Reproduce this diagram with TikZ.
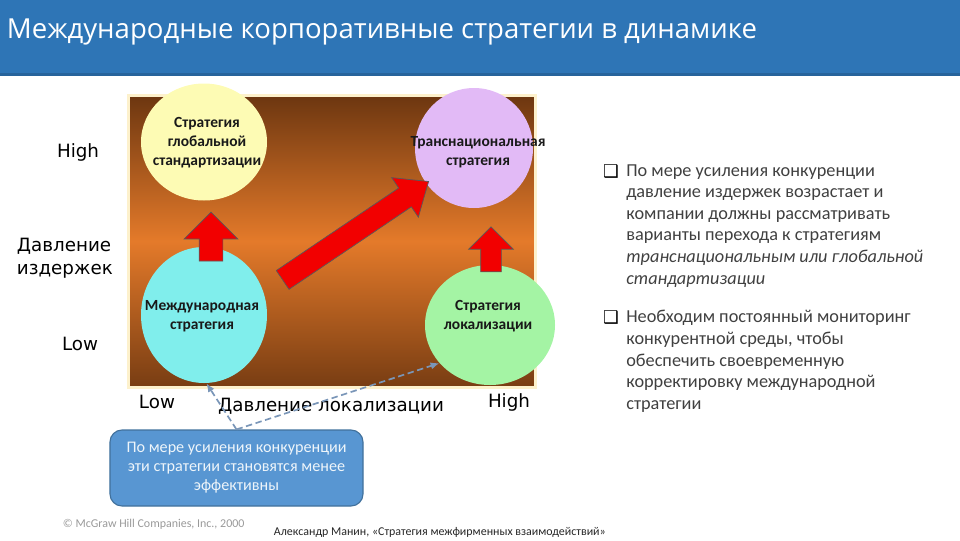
\documentclass[tikz,border=0pt]{standalone}
\usepackage{fontspec}
\setmainfont{Carlito}
\newfontfamily\titlefont{Open Sans}
\newfontfamily\axisfont{DejaVu Sans}
\newfontfamily\symfont{DejaVu Sans}
\usetikzlibrary{shapes.geometric,shapes.arrows,arrows.meta}

\definecolor{headblue}{RGB}{46,117,182}
\definecolor{boxbrown}{RGB}{108,54,16}
\definecolor{boxorange}{RGB}{228,122,42}
\definecolor{rimyellow}{RGB}{253,241,204}
\definecolor{globyellow}{RGB}{253,251,180}
\definecolor{transviolet}{RGB}{226,186,246}
\definecolor{intcyan}{RGB}{128,238,236}
\definecolor{locgreen}{RGB}{164,244,164}
\definecolor{noteblue}{RGB}{88,150,210}
\definecolor{noteedge}{RGB}{65,113,156}
\definecolor{linkgray}{RGB}{122,150,184}
\definecolor{bodygray}{RGB}{64,64,64}

\begin{document}
\begin{tikzpicture}[x=0.25mm,y=-0.25mm,
  strat/.style={ellipse,inner sep=0pt},
  stratlabel/.style={align=center,text=black!90,font=\bfseries\fontsize{11}{13.5}\selectfont},
  bigarrow/.style={single arrow,draw=gray!70!black,fill=red!95!black,line width=0.5pt,inner xsep=0pt,minimum width=0pt},
  axislabel/.style={font=\axisfont\fontsize{13}{16.4}\selectfont},
  bullettext/.style={align=left,anchor=north west,inner sep=0pt,text=bodygray,font=\fontsize{13}{15.4}\selectfont},
  bulletmark/.style={font=\symfont\fontsize{12.5}{14}\selectfont},
  link/.style={draw=linkgray,line width=1.2pt,dash pattern=on 1.6mm off 0.9mm,-{Latex[length=2.2mm,width=1.8mm]}}
]
\useasboundingbox (0,0) rectangle (960,540);

% header
\fill[headblue] (0,0) rectangle (960,75);
\fill[headblue!85!black] (0,73) rectangle (960,76);
\node[anchor=west,text=white,font=\titlefont\fontsize{19.6}{23}\selectfont] (title) at (2,32) {Международные корпоративные стратегии в динамике};

% matrix background
\draw[draw=rimyellow,line width=0.75mm,top color=boxbrown,bottom color=boxbrown!90!boxorange,middle color=boxorange] (128,95) rectangle (535,387);

% strategies
\node[strat,fill=globyellow,minimum width=31.5mm,minimum height=29.25mm] (glob) at (204,142) {};
\node[stratlabel] (globtext) at (207,143) {Стратегия\\глобальной\\стандартизации};
\node[strat,fill=transviolet,minimum width=29.5mm,minimum height=30mm] (trans) at (474,148) {};
\node[stratlabel] (transtext) at (478,152) {Транснациональная\\стратегия};
\node[strat,fill=intcyan,minimum width=31.5mm,minimum height=34mm] (intl) at (204,315) {};
\node[stratlabel] (intltext) at (202,316) {Международная\\стратегия};
\node[strat,fill=locgreen,minimum width=32.5mm,minimum height=30mm] (local) at (490,325) {};
\node[stratlabel] (localtext) at (488,316) {Стратегия\\локализации};

% moves
\node[bigarrow,rotate=90,minimum height=12.25mm,inner ysep=2.875mm,single arrow head extend=3.75mm] (upglob) at (211,242.5) {};
\node[bigarrow,rotate=90,minimum height=11.25mm,inner ysep=2.5mm,single arrow head extend=3mm] (uptrans) at (491,254.5) {};
\node[bigarrow,rotate=34,minimum height=44mm,inner ysep=2.75mm,single arrow head extend=3.125mm,single arrow tip angle=80] (diagtrans) at (350,234.5) {};

% axes
\node[axislabel,anchor=east] (costhigh) at (104,152) {High};
\node[axislabel,anchor=west,align=left] (costaxis) at (12,258) {Давление\\издержек};
\node[axislabel,anchor=east] (costlow) at (103,344) {Low};
\node[axislabel,anchor=west] (loclow) at (134,402) {Low};
\node[axislabel] (locaxis) at (331,406) {Давление локализации};
\node[axislabel] (lochigh) at (509,402) {High};

% callout
\node[draw=noteedge,fill=noteblue,rounded corners=3mm,line width=0.8pt,minimum width=63.25mm,minimum height=19mm,align=center,text=white!90!noteblue,font=\fontsize{11.5}{13.5}\selectfont] (note) at (236.5,468) {По мере усиления конкуренции\\эти стратегии становятся менее\\эффективны};
\draw[link] (note.north) -- (intl.-88);
\draw[link] (note.north) -- (local.217);

% notes
\node[bulletmark] (bulletone) at (611,172) {❑};
\node[bullettext] (noteone) at (626,164) {По мере усиления конкуренции\\давление издержек возрастает и\\компании должны рассматривать\\варианты перехода к стратегиям\\\textit{транснациональным или глобальной}\\\textit{стандартизации}};
\node[bulletmark] (bullettwo) at (611,318) {❑};
\node[bullettext] (notetwo) at (626,310) {Необходим постоянный мониторинг\\конкурентной среды, чтобы\\обеспечить своевременную\\корректировку международной\\стратегии};

% footer
\node[anchor=west,text=gray!80,font=\fontsize{8.5}{10}\selectfont] (copyright) at (58,524) {© McGraw Hill Companies, Inc., 2000};
\node[anchor=west,text=black!85,font=\fontsize{8.5}{10}\selectfont] (source) at (269,532) {Александр Манин, «Стратегия межфирменных взаимодействий»};
\end{tikzpicture}
\end{document}
